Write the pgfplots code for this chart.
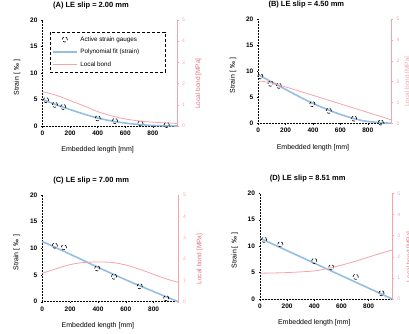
\documentclass[border=0pt]{standalone}
\usepackage{fontspec}
\setmainfont{Liberation Sans}
\usepackage{pgfplots}
\pgfplotsset{compat=1.18}
\definecolor{fitblue}{RGB}{150,190,225}
\definecolor{bondred}{RGB}{242,165,172}
\definecolor{bondlab}{RGB}{232,110,128}
\pgfplotsset{
 leftax/.style={scale only axis, axis y line*=left, axis x line*=bottom,
  xmin=0, xmax=975, ymin=0, ymax=20,
  xtick={0,200,400,600,800}, ytick={0,5,10,15,20},
  axis line style={black, densely dotted, line width=0.5pt, -},
  tick style={black, line width=0.4pt}, major tick length=1.5pt, tick align=outside,
  ticklabel style={font=\fontsize{6.5}{7}\selectfont\bfseries},
  /pgf/number format/assume math mode=true, clip=false,
  title style={at={(0.36,1)}, anchor=south, yshift=1.5pt, font=\fontsize{7.5}{8}\selectfont\bfseries},
  xlabel={Embedded length [mm]},
  xlabel style={at={(0.41,0)}, anchor=center, yshift=-24pt, font=\fontsize{7}{8}\selectfont},
  ylabel={Strain [\,\,‰\,\,]},
  ylabel style={at={(-0.19,0.46)}, anchor=center, font=\fontsize{7}{8}\selectfont},
 },
 rightax/.style={scale only axis, axis y line*=right, axis x line=none,
  xmin=0, xmax=975, ymin=0, ymax=5, ytick={0,1,2,3,4,5},
  axis line style={bondred, line width=0.5pt, -},
  tick style={bondred, line width=0.4pt}, major tick length=1.5pt, tick align=outside,
  ticklabel style={font=\fontsize{5}{6}\selectfont, text=bondred},
  /pgf/number format/assume math mode=true, clip=false,
  ylabel={Local bond [MPa]},
  ylabel style={at={(1.16,0.4)}, anchor=center, text=bondlab, font=\fontsize{6.5}{7}\selectfont},
 },
 gauge/.style={only marks, mark=o, mark size=2.6pt, mark options={black, densely dashed, line width=0.6pt}},
 fit/.style={fitblue, line width=1.6pt, smooth, no marks},
 bond/.style={bondred, line width=0.8pt, smooth, no marks},
}
\begin{document}
\begin{tikzpicture}
\useasboundingbox (0pt,0pt) rectangle (409pt,333pt);
% ---------- A ----------
\begin{axis}[leftax, at={(42.5pt,207pt)}, anchor=south west, width=134.5pt, height=106pt,
  title={(A) LE slip = 2.00 mm}]
\addplot[fit] coordinates {(0,5.0) (100,4.0) (200,3.1) (300,2.25) (400,1.5) (500,0.95) (600,0.55) (700,0.28) (800,0.1) (975,0)};
\addplot[gauge] coordinates {(25,4.9) (90,4.0) (150,3.6) (400,1.45) (525,0.95) (710,0.5) (900,0.2)};
\end{axis}
\begin{axis}[rightax, at={(42.5pt,207pt)}, anchor=south west, width=134.5pt, height=106pt,
  legend style={at={(0.055,0.89)}, anchor=north west, draw=black, densely dashed, line width=0.6pt,
    font=\fontsize{6.3}{7}\selectfont, inner xsep=2pt, inner ysep=2.5pt, row sep=2.5pt},
  legend cell align=left]
\addlegendimage{legend image code/.code={\draw[black, densely dashed, line width=0.6pt] (12pt,0pt) circle (2.6pt);}}
\addlegendentry{\hspace*{1pt}Active strain gauges}
\addlegendimage{legend image code/.code={\draw[fitblue, line width=1.2pt] (0pt,0pt) -- (24pt,0pt);}}
\addlegendentry{\hspace*{1pt}Polynomial fit (strain)\hspace*{22pt}}
\addlegendimage{legend image code/.code={\draw[bondred, line width=0.8pt] (0pt,0pt) -- (24pt,0pt);}}
\addlegendentry{\hspace*{1pt}Local bond}
\addplot[bond, forget plot] coordinates {(0,1.62) (100,1.45) (200,1.2) (300,0.95) (400,0.68) (500,0.48) (600,0.33) (700,0.24) (800,0.18) (975,0.12)};
\end{axis}
% ---------- B ----------
\begin{axis}[leftax, at={(258.3pt,209.7pt)}, anchor=south west, width=133.4pt, height=104.3pt,
  title={(B) LE slip = 4.50 mm}]
\addplot[fit] coordinates {(0,9.3) (100,7.9) (200,6.5) (300,5.1) (400,3.8) (500,2.7) (600,1.7) (700,0.9) (800,0.35) (975,0)};
\addplot[gauge] coordinates {(15,9.0) (90,7.6) (150,7.2) (395,3.7) (515,2.4) (700,0.9) (895,0.15)};
\end{axis}
\begin{axis}[rightax, at={(258.3pt,209.7pt)}, anchor=south west, width=133.4pt, height=104.3pt,
  ylabel style={text=bondred, at={(1.12,0.4)}}]
\addplot[bond] coordinates {(0,2.0) (150,1.84) (975,0.16)};
\end{axis}
% ---------- C ----------
\begin{axis}[leftax, at={(42.3pt,31.3pt)}, anchor=south west, width=135.7pt, height=106.7pt,
  title={(C) LE slip = 7.00 mm}]
\addplot[fit] coordinates {(0,11.3) (200,8.9) (400,6.45) (600,4.1) (800,1.9) (975,0)};
\addplot[gauge] coordinates {(90,10.5) (155,10.2) (395,6.25) (515,4.7) (700,2.9) (890,0.65)};
\end{axis}
\begin{axis}[rightax, at={(42.3pt,31.3pt)}, anchor=south west, width=135.7pt, height=106.7pt]
\addplot[bond] coordinates {(0,1.33) (100,1.55) (200,1.74) (300,1.84) (400,1.86) (500,1.84) (600,1.72) (700,1.52) (800,1.28) (900,1.05) (975,0.91)};
\end{axis}
% ---------- D ----------
\begin{axis}[leftax, at={(260pt,34pt)}, anchor=south west, width=132.3pt, height=105.7pt,
  title={(D) LE slip = 8.51 mm}]
\addplot[fit] coordinates {(0,11.5) (975,0)};
\addplot[gauge] coordinates {(30,11.2) (150,10.35) (400,7.2) (525,6.0) (705,4.2) (895,1.1)};
\end{axis}
\begin{axis}[rightax, at={(260pt,34pt)}, anchor=south west, width=132.3pt, height=105.7pt,
  ylabel style={at={(1.13,0.4)}}]
\addplot[bond] coordinates {(0,1.22) (200,1.25) (400,1.33) (500,1.45) (600,1.6) (700,1.78) (800,1.98) (900,2.18) (975,2.32)};
\end{axis}
\end{tikzpicture}
\end{document}
